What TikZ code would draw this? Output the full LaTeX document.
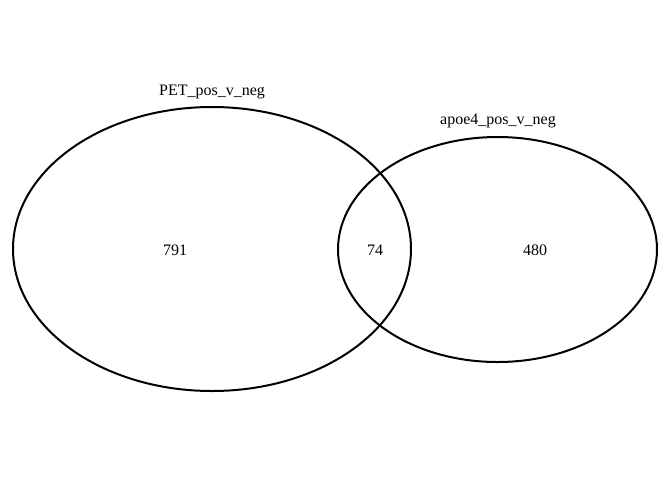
\documentclass[tikz,border=0pt]{standalone}
\usepackage{fontspec}
\setmainfont{Liberation Serif}
\usepackage{tikz}
\usetikzlibrary{positioning}
\tikzstyle{set} = [draw, black, line width=1.5pt]
\tikzstyle{setname} = [inner sep=0pt, anchor=base, font=\fontsize{12}{14}\selectfont]
\tikzstyle{count} = [inner sep=0pt, font=\fontsize{12}{14}\selectfont]

\begin{document}
\begin{tikzpicture}[x=0.75pt, y=-0.75pt]
	\useasboundingbox (0,0) rectangle (672,480);
	% the two sets
	\draw [set] (212,249) ellipse [x radius=199, y radius=142];
	\draw [set] (497.5,249.5) ellipse [x radius=159.5, y radius=112.5];
	% set names
	\node [setname] (PET_name) at (212,95) {PET\_pos\_v\_neg};
	\node [setname] (apoe4_name) at (498,124) {apoe4\_pos\_v\_neg};
	% counts
	\node [count] (PET_only) at (175,250) {791};
	\node [count] (Both) at (375,250) {74};
	\node [count] (apoe4_only) at (535,250) {480};
\end{tikzpicture}
\end{document}
